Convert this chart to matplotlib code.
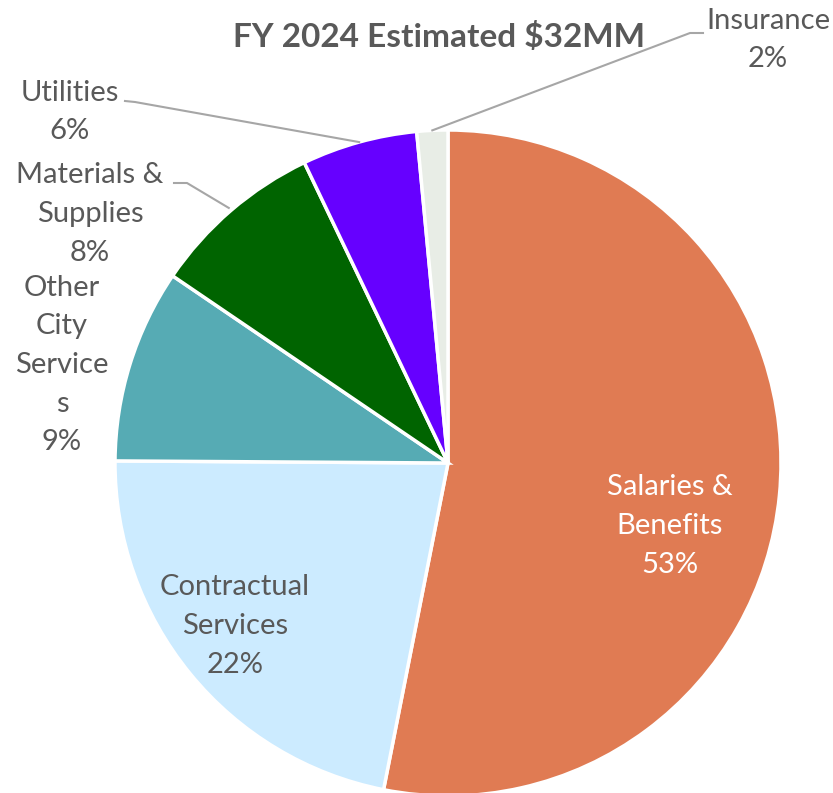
import matplotlib
matplotlib.use("Agg")
import matplotlib.pyplot as plt
import numpy as np

categories = ["Salaries &\nBenefits", "Contractual\nServices", "Other\nCity\nService\ns",
              "Materials &\nSupplies", "Utilities", "Insurance"]
values = [53.1, 22.0, 9.4, 8.4, 5.6, 1.5]
colors = ["#E07B53", "#CCEBFF", "#56ABB4", "#006400", "#6600FF", "#E8EDE6"]
title = "FY 2024 Estimated $32MM"

W, H = 833, 793
fig = plt.figure(figsize=(W / 100, H / 100), dpi=100)
plt.rcParams['font.family'] = ['Lato', 'DejaVu Sans']

cx, cy, R = 448, 463, 333
ax = fig.add_axes([(cx - R) / W, (H - cy - R) / H, 2 * R / W, 2 * R / H])
wedges, _ = ax.pie(values, colors=colors, startangle=90, counterclock=False,
                   radius=1, wedgeprops=dict(edgecolor="white", linewidth=2.5))
ax.set_xlim(-1, 1)
ax.set_ylim(-1, 1)
ax.set_aspect("auto")
ax.axis("off")

# overlay in pixel coordinates
ov = fig.add_axes([0, 0, 1, 1])
ov.set_xlim(0, W)
ov.set_ylim(H, 0)
ov.axis("off")
ov.patch.set_alpha(0)

txt = "#595959"
fs = 21
pct = ["%.0f%%" % v for v in values]
label_pos = [(670, 526), (235, 626), (62, 365), (90, 214), (70, 112), (768, 40)]
for i, (lab, p, (x, y)) in enumerate(zip(categories, pct, label_pos)):
    col = "white" if i == 0 else txt
    ov.text(x, y, lab + "\n" + p, ha="center", va="center", fontsize=fs,
            color=col, linespacing=1.6)

ov.text(439, 37, title, ha="center", va="center", fontsize=24,
        fontweight="bold", color=txt)

# leader lines: from wedge edge to label
def edge_point(idx, frac_r=1.0):
    w = wedges[idx]
    ang = np.deg2rad((w.theta1 + w.theta2) / 2)
    return cx + R * frac_r * np.cos(ang), cy - R * frac_r * np.sin(ang)

lc = "#A6A6A6"
ex, ey = edge_point(5, 1.0)
ov.plot([ex, 690, 703], [ey, 33, 33], color=lc, lw=1.5)
ex, ey = edge_point(4, 1.0)
ov.plot([ex, 135, 125], [ey, 102, 101], color=lc, lw=1.5)
ex, ey = edge_point(3, 1.01)
ov.plot([ex, 187, 174], [ey, 183, 183], color=lc, lw=1.5)

fig.savefig("out.png", dpi=100)
